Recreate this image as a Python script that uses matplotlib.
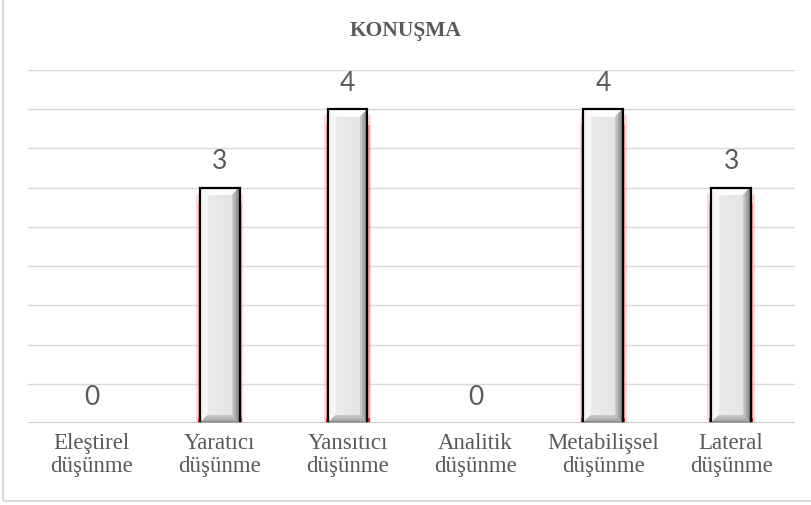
import numpy as np
import matplotlib
matplotlib.use("Agg")
import matplotlib.pyplot as plt
from matplotlib.patches import Rectangle

# chart data
categories = ["Eleştirel\ndüşünme", "Yaratıcı\ndüşünme", "Yansıtıcı\ndüşünme",
              "Analitik\ndüşünme", "Metabilişsel\ndüşünme", "Lateral\ndüşünme"]
values = [0, 3, 4, 0, 4, 3]
title = "KONUŞMA"

TEXT = "#595959"
BAR_W = 0.31


def bevel_image(w, h, b=8):
    """Grey bevelled face, one value per pixel (rows from the top)."""
    x = np.arange(w)[None, :] + 0.5
    y = np.arange(h)[:, None] + 0.5
    dl = np.broadcast_to(x, (h, w))
    dr = np.broadcast_to(w - x, (h, w))
    dt = np.broadcast_to(y, (h, w))
    db = np.broadcast_to(h - y, (h, w))
    d = np.minimum(np.minimum(dl, dr), np.minimum(dt, db))
    # face: light, slightly darker to the right
    img = 0.93 - 0.04 * (x / w) + 0 * y
    img = np.broadcast_to(img, (h, w)).copy()
    bev = d < b
    left = bev & (dl == d)
    right = bev & (dr == d)
    top = bev & (dt == d)
    bot = bev & (db == d)
    img[left] = 0.965
    img[top] = 0.99
    t = (1 - dr / b)
    img[right] = (0.82 - 0.35 * t)[right]
    tb = (1 - db / b)
    img[bot] = (0.80 - 0.2 * tb)[bot]
    return np.dstack([img, img, img])


fig = plt.figure(figsize=(8.11, 5.05), dpi=100)
ax = fig.add_axes([28 / 811, 82 / 505, 767 / 811, 353 / 505])
ax.set_xlim(-0.5, len(categories) - 0.5)
ax.set_ylim(0, 4.5)

for gy in np.arange(0.5, 4.51, 0.5):
    ax.axhline(gy, color="#d9d9d9", lw=1.0, zorder=1)
ax.axhline(0, color="#bfbfbf", lw=1.2, zorder=6)

x = np.arange(len(categories))
for xi, v in zip(x, values):
    if v > 0:
        # faint red glow round the bar
        ax.bar(xi, v - 0.08, width=BAR_W + 0.06, color=(1, 0.6, 0.6, 0.35),
               lw=0, zorder=2)
        ax.bar(xi, v - 0.2, width=BAR_W + 0.035, color=(1, 0.35, 0.35, 0.5),
               lw=0, zorder=2)
        ax.bar(xi, 0.07, width=BAR_W + 0.035, color=(0.9, 0.1, 0.1, 0.9),
               lw=0, zorder=2)
        bar = ax.bar(xi, v, width=BAR_W, facecolor="none", edgecolor="black",
                     lw=1.6, zorder=4)[0]
        x0, x1 = xi - BAR_W / 2, xi + BAR_W / 2
        p0 = ax.transData.transform((x0, 0))
        p1 = ax.transData.transform((x1, v))
        w_px = int(round(p1[0] - p0[0]))
        h_px = int(round(p1[1] - p0[1]))
        im = ax.imshow(bevel_image(w_px, h_px), extent=(x0, x1, 0, v),
                       origin="upper", aspect="auto", zorder=3,
                       interpolation="bilinear")
        im.set_clip_path(bar)
    ax.text(xi, v + 0.33, str(v), ha="center", va="center",
            fontsize=19, color=TEXT, family="Lato", zorder=5)

ax.set_xticks(x)
ax.set_xticklabels(categories, family="Liberation Serif", fontsize=16.5,
                   color=TEXT, linespacing=1.15)
ax.tick_params(axis="x", length=0, pad=7)
ax.set_yticks([])
for s in ax.spines.values():
    s.set_visible(False)

fig.text(0.5, 1 - 31 / 505, title, ha="center", va="center",
         family="Liberation Serif", fontweight="bold", fontsize=15.5, color=TEXT)

# outer chart border
fig.add_artist(Rectangle((3.5 / 811, 4 / 505), 1.0, 1.0, fill=False,
                         edgecolor="#d9d9d9", lw=1.5,
                         transform=fig.transFigure))

fig.savefig("out.png", dpi=100)
